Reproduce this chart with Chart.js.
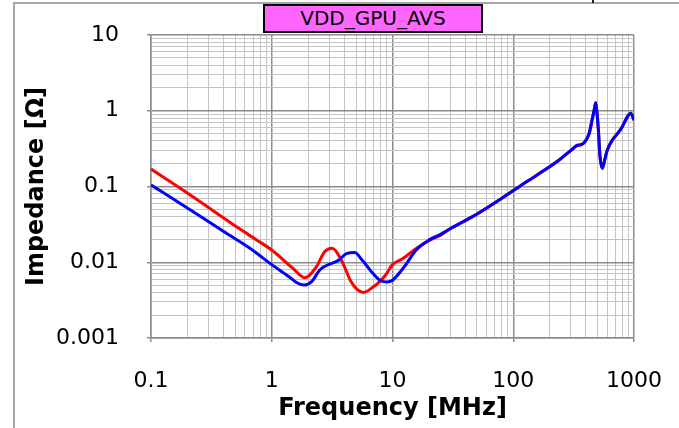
<!DOCTYPE html>
<html>
<head>
<meta charset="utf-8">
<title>VDD_GPU_AVS impedance</title>
<script src="https://cdn.jsdelivr.net/npm/chart.js@4.4.0/dist/chart.umd.min.js"></script>
<style>
  html, body { margin: 0; padding: 0; background: #fff; }
  #wrap { position: relative; width: 679px; height: 428px; overflow: hidden; background: #fff; }
  #chart { position: absolute; left: 0; top: 0; }
  .edge { position: absolute; background: #a6a6a6; }
  #edge-top  { left: 13px; top: 2px; width: 666px; height: 2px; }
  #edge-left { left: 13px; top: 2px; width: 2px; height: 426px; }
  #mark { position: absolute; left: 592px; top: 0; width: 2px; height: 3px; background: #222; }
  #title {
    position: absolute; left: 263px; top: 4px; width: 216px; height: 25px;
    background: #ff66ff; border: 2px solid #000; color: #000;
    font: 20px 'DejaVu Sans', sans-serif; line-height: 25px; text-align: center;
  }
</style>
</head>
<body>
<div id="wrap">
  <canvas id="chart" width="679" height="428"></canvas>
  <div class="edge" id="edge-top"></div>
  <div class="edge" id="edge-left"></div>
  <div id="mark"></div>
  <div id="title">VDD_GPU_AVS</div>
</div>
<script>
/* ── Axis decades and their labels ───────────────────────────── */
const FREQ_TICKS  = [0.1, 1, 10, 100, 1000];
const FREQ_LABELS = ['0.1', '1', '10', '100', '1000'];
const Z_TICKS     = [0.001, 0.01, 0.1, 1, 10];
const Z_LABELS    = ['0.001', '0.01', '0.1', '1', '10'];

/* ── Impedance curves (MHz, Ω) ───────────────────────────────── */
const RED_FREQ = [0.1, 0.2, 0.5, 0.75, 1, 1.5, 1.87, 2.34, 2.74, 3.17, 3.77, 4.53, 5.15, 5.76,
                  6.86, 7.8, 8.9, 10, 12, 15, 18, 20, 25,
                  30, 46, 76, 112, 150, 240, 300, 340, 370, 425, 450, 470, 482, 495, 507, 523,
                  547, 570, 601, 662, 751, 800, 881, 939, 1000];
const RED_Z    = [0.170, 0.082, 0.030, 0.0197, 0.0145, 0.0083, 0.00625, 0.0087, 0.0138, 0.0153,
                  0.0107, 0.00555, 0.0043, 0.0040, 0.00467, 0.0055, 0.0070, 0.0093, 0.011,
                  0.0144, 0.0175, 0.0192, 0.0228,
                  0.0277, 0.040, 0.066, 0.0996, 0.135, 0.224, 0.30, 0.35, 0.36, 0.50, 0.76,
                  1.06, 1.28, 0.90, 0.557, 0.248, 0.174, 0.22, 0.303, 0.41, 0.53, 0.616, 0.83,
                  0.925, 0.755];

const BLUE_FREQ = [0.1, 0.2, 0.4, 0.66, 1, 1.4, 1.6, 1.85, 2.15, 2.5, 3.6, 4.2, 4.85, 5.6, 6.9,
                   8.0, 9.0, 10, 12.5, 15.7, 20, 25,
                   30, 46, 76, 112, 150, 240, 300, 340, 370, 425, 450, 470, 482, 495, 507, 523,
                   547, 570, 601, 662, 751, 800, 881, 939, 1000];
const BLUE_Z    = [0.105, 0.052, 0.0255, 0.0153, 0.0093, 0.0064, 0.0054, 0.0050, 0.0056, 0.0079,
                   0.0107, 0.0131, 0.0134, 0.0107, 0.0071, 0.0057, 0.0055, 0.0058, 0.0087,
                   0.0145, 0.0196, 0.0233,
                   0.0277, 0.040, 0.066, 0.0996, 0.135, 0.224, 0.30, 0.35, 0.36, 0.50, 0.76,
                   1.06, 1.28, 0.90, 0.557, 0.248, 0.174, 0.22, 0.303, 0.41, 0.53, 0.616, 0.83,
                   0.925, 0.755];

const MAJOR_GRID = '#8c8c8c';
const MINOR_GRID = '#c4c4c4';

/* decade ticks carry a label, the 2..9 steps in between only a grid line */
function decadeTicks(decades, labels) {
  const out = [];
  decades.forEach((d, i) => {
    out.push({ value: d, lbl: labels[i] });
    if (i < decades.length - 1) {
      for (let k = 2; k <= 9; k++) out.push({ value: d * k, lbl: '' });
    }
  });
  return out;
}

function pairs(xs, ys) {
  return xs.map((x, i) => ({ x, y: ys[i] }));
}

function logAxis(decades, labels, title, fit) {
  return {
    type: 'logarithmic',
    min: decades[0],
    max: decades[decades.length - 1],
    afterBuildTicks: s => { s.ticks = decadeTicks(decades, labels); },
    afterFit: fit,
    grid: {
      color: c => (c.tick && c.tick.lbl ? MAJOR_GRID : MINOR_GRID),
      lineWidth: c => (c.tick && c.tick.lbl ? 1.5 : 1),
      tickColor: c => (c.tick && c.tick.lbl ? MAJOR_GRID : 'rgba(0,0,0,0)'),
      tickLength: 4,
    },
    border: { display: true, color: MAJOR_GRID, width: 1.5 },
    ticks: {
      autoSkip: false,
      maxRotation: 0,
      minRotation: 0,
      color: '#000',
      font: { family: "'DejaVu Sans', sans-serif", size: 22 },
      callback: (v, i, ticks) => ticks[i].lbl,
    },
    title: {
      display: true,
      text: title,
      color: '#000',
      font: { family: "'DejaVu Sans', sans-serif", size: 24, weight: 'bold' },
    },
  };
}

/* fixed axis boxes so the plot sits at 151..634 x 35..338 */
const xAxis = logAxis(FREQ_TICKS, FREQ_LABELS, 'Frequency [MHz]', s => {
  s.height = 90;
  s.paddingLeft = 0;
  s.paddingRight = 0;
});
xAxis.ticks.padding = 26;
xAxis.title.padding = { top: 0, bottom: 5 };

const yAxis = logAxis(Z_TICKS, Z_LABELS, 'Impedance [Ω]', s => {
  s.width = 151;
  s.paddingTop = 0;
  s.paddingBottom = 0;
});
yAxis.ticks.padding = 28;
yAxis.title.padding = { top: 22, bottom: 0 };

new Chart(document.getElementById('chart'), {
  type: 'line',
  data: {
    datasets: [
      {
        data: pairs(BLUE_FREQ, BLUE_Z),
        borderColor: '#0000ff',
        borderWidth: 3,
        pointRadius: 0,
        cubicInterpolationMode: 'monotone',
        fill: false,
      },
      {
        data: pairs(RED_FREQ, RED_Z),
        borderColor: '#ff0000',
        borderWidth: 3,
        pointRadius: 0,
        cubicInterpolationMode: 'monotone',
        fill: false,
      },
    ],
  },
  options: {
    responsive: false,
    animation: false,
    layout: { padding: { left: 0, top: 35, right: 45, bottom: 0 } },
    plugins: { legend: { display: false }, tooltip: { enabled: false } },
    scales: { x: xAxis, y: yAxis },
  },
});
</script>
</body>
</html>
